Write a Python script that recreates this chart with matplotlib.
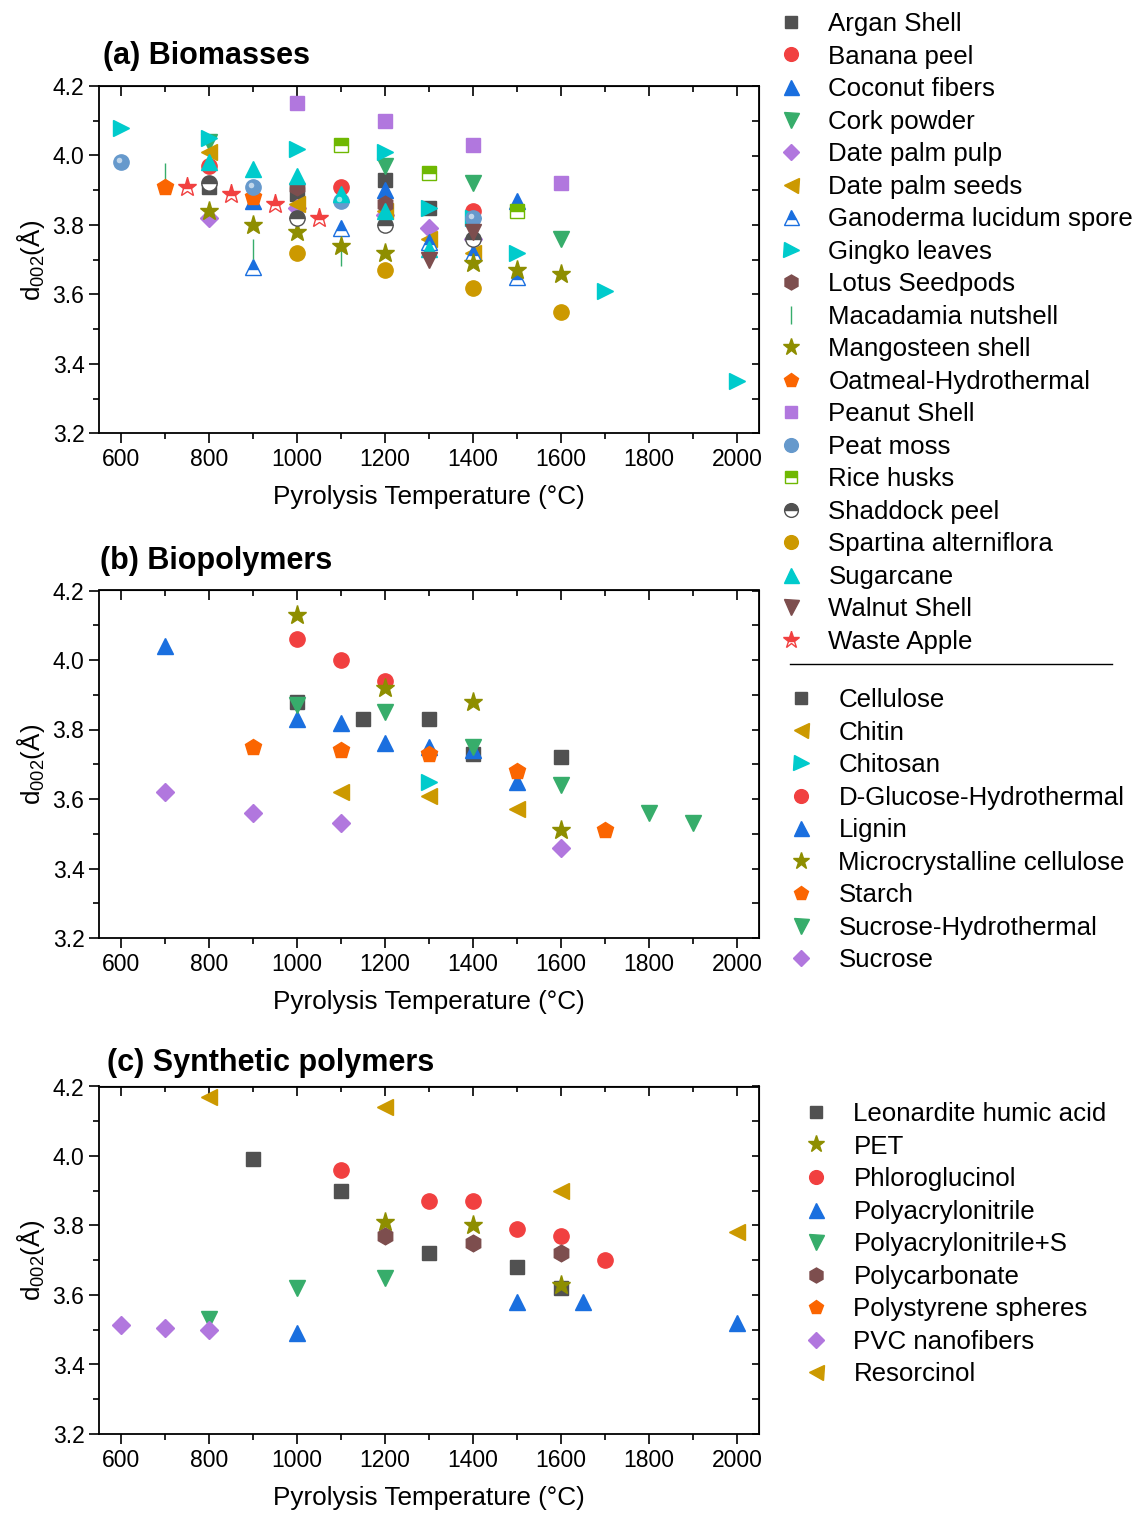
import matplotlib
matplotlib.use('Agg')
import matplotlib.pyplot as plt
import matplotlib.transforms as mtransforms
from matplotlib.lines import Line2D
from matplotlib.ticker import MultipleLocator

plt.rcParams['font.family'] = ['Liberation Sans', 'DejaVu Sans']
plt.rcParams['mathtext.default'] = 'regular'

# Origin-like palette
C_GREY = '#515151'
C_RED = '#F14040'
C_BLUE = '#1A6FDF'
C_GREEN = '#37AD6B'
C_PURPLE = '#B177DE'
C_GOLD = '#CC9900'
C_CYAN = '#00CBCC'
C_BROWN = '#7D4E4E'
C_OLIVE = '#8E8E00'
C_ORANGE = '#FB6501'
C_STEEL = '#6699CC'
C_LIME = '#6FB802'

# ---------------- (a) Biomasses ----------------
argan_x, argan_y = [800, 1000, 1200, 1300], [3.91, 3.89, 3.93, 3.85]
banana_x, banana_y = [800, 1100, 1400], [3.97, 3.91, 3.84]
coconut_x, coconut_y = [900, 1200, 1500], [3.87, 3.90, 3.87]
cork_x, cork_y = [800, 1200, 1400, 1600], [4.04, 3.97, 3.92, 3.76]
dpulp_x, dpulp_y = [800, 1000, 1200, 1300, 1400], [3.82, 3.85, 3.83, 3.79, 3.76]
dseed_x, dseed_y = [800, 1000, 1200, 1300, 1400], [4.01, 3.86, 3.84, 3.76, 3.72]
gano_x, gano_y = [900, 1100, 1300, 1400, 1500], [3.68, 3.79, 3.75, 3.72, 3.65]
gingko_x = [600, 800, 1000, 1200, 1300, 1400, 1500, 1700, 2000]
gingko_y = [4.08, 4.05, 4.02, 4.01, 3.85, 3.82, 3.72, 3.61, 3.35]
lotus_x, lotus_y = [1000, 1200], [3.91, 3.86]
macad_x, macad_y = [700, 900, 1100], [3.95, 3.73, 3.71]
mango_x = [800, 900, 1000, 1100, 1200, 1400, 1500, 1600]
mango_y = [3.84, 3.80, 3.78, 3.74, 3.72, 3.69, 3.67, 3.66]
oat_x, oat_y = [700, 900], [3.91, 3.88]
peanut_x, peanut_y = [1000, 1200, 1400, 1600], [4.15, 4.10, 4.03, 3.92]
peat_x, peat_y = [600, 900, 1100, 1400], [3.98, 3.91, 3.87, 3.82]
rice_x, rice_y = [1100, 1300, 1500], [4.03, 3.95, 3.84]
shad_x, shad_y = [800, 1000, 1200, 1400], [3.92, 3.82, 3.80, 3.76]
spart_x, spart_y = [1000, 1200, 1400, 1600], [3.72, 3.67, 3.62, 3.55]
sugar_x, sugar_y = [800, 900, 1000, 1100, 1200, 1300], [3.98, 3.96, 3.94, 3.89, 3.84, 3.73]
walnut_x, walnut_y = [1300, 1400], [3.70, 3.78]
apple_x, apple_y = [750, 850, 950, 1050], [3.91, 3.89, 3.86, 3.82]

# ---------------- (b) Biopolymers ----------------
cell_x, cell_y = [1000, 1150, 1300, 1400, 1600], [3.88, 3.83, 3.83, 3.73, 3.72]
chitin_x, chitin_y = [1100, 1300, 1500], [3.62, 3.61, 3.57]
chitosan_x, chitosan_y = [1300], [3.65]
gluc_x, gluc_y = [1000, 1100, 1200], [4.06, 4.00, 3.94]
lignin_x = [700, 1000, 1100, 1200, 1300, 1400, 1500]
lignin_y = [4.04, 3.83, 3.82, 3.76, 3.75, 3.74, 3.65]
mcc_x, mcc_y = [1000, 1200, 1400, 1600], [4.13, 3.92, 3.88, 3.51]
starch_x, starch_y = [900, 1100, 1300, 1500, 1700], [3.75, 3.74, 3.73, 3.68, 3.51]
suchyd_x = [1000, 1200, 1400, 1600, 1800, 1900]
suchyd_y = [3.87, 3.85, 3.75, 3.64, 3.56, 3.53]
sucrose_x, sucrose_y = [700, 900, 1100, 1600], [3.62, 3.56, 3.53, 3.46]

# ---------------- (c) Synthetic polymers ----------------
leon_x, leon_y = [900, 1100, 1300, 1500, 1600], [3.99, 3.90, 3.72, 3.68, 3.62]
pet_x, pet_y = [1200, 1400, 1600], [3.81, 3.80, 3.63]
phlo_x = [1100, 1300, 1400, 1500, 1600, 1700]
phlo_y = [3.96, 3.87, 3.87, 3.79, 3.77, 3.70]
pan_x, pan_y = [1000, 1500, 1650, 2000], [3.49, 3.58, 3.58, 3.52]
pans_x, pans_y = [800, 1000, 1200], [3.53, 3.62, 3.65]
pc_x, pc_y = [1200, 1400, 1600], [3.77, 3.75, 3.72]
ps_x, ps_y = [], []
pvc_x, pvc_y = [600, 700, 800], [3.515, 3.505, 3.50]
resor_x, resor_y = [800, 1200, 1600, 2000], [4.17, 4.14, 3.90, 3.78]

W, H = 1139, 1513
fig = plt.figure(figsize=(W / 100, H / 100), dpi=100)


def make_axes(top_px):
    left, right, bottom = 99, 759, top_px + 347.5
    ax = fig.add_axes([left / W, 1 - bottom / H, (right - left) / W, 347.5 / H])
    ax.set_xlim(550, 2050)
    ax.set_ylim(3.2, 4.2)
    ax.set_xticks(range(600, 2001, 200))
    ax.set_yticks([3.2, 3.4, 3.6, 3.8, 4.0, 4.2])
    ax.xaxis.set_minor_locator(MultipleLocator(100))
    ax.yaxis.set_minor_locator(MultipleLocator(0.1))
    ax.tick_params(which='major', direction='out', length=7, width=1.2, labelsize=16.5)
    ax.tick_params(which='minor', direction='out', length=4, width=1.2)
    for s in ax.spines.values():
        s.set_linewidth(1.3)
    # mirrored inward ticks on top / right
    top = ax.secondary_xaxis('top')
    top.set_xticks(range(600, 2001, 200))
    top.xaxis.set_minor_locator(MultipleLocator(100))
    top.tick_params(which='major', direction='in', length=7, width=1.2, labeltop=False)
    top.tick_params(which='minor', direction='in', length=4, width=1.2)
    rgt = ax.secondary_yaxis('right')
    rgt.set_yticks([3.2, 3.4, 3.6, 3.8, 4.0, 4.2])
    rgt.yaxis.set_minor_locator(MultipleLocator(0.1))
    rgt.tick_params(which='major', direction='in', length=5, width=1.2, labelright=False)
    rgt.tick_params(which='minor', direction='in', length=5, width=1.2)
    # axis labels
    fig.text(429 / W, 1 - (top_px + 411) / H, 'Pyrolysis Temperature (°C)',
             ha='center', va='center', fontsize=18.8)
    fig.text(31 / W, 1 - (top_px + 174) / H, r'd$_{002}$(Å)', rotation=90,
             ha='center', va='center', fontsize=18.8)
    return ax


MS = 11


def pts(ax, x, y, marker, color, ms=MS, **kw):
    opts = dict(linestyle='none', marker=marker, markersize=ms, color=color,
                markeredgecolor=color, markeredgewidth=1)
    opts.update(kw)
    return ax.plot(x, y, **opts)[0]


# ---- panel a
ax1 = make_axes(86)
half = dict(fillstyle='top', markerfacecoloralt='white')
h_a = [
    (pts(ax1, argan_x, argan_y, 's', C_GREY, ms=10), 'Argan Shell'),
    (pts(ax1, banana_x, banana_y, 'o', C_RED), 'Banana peel'),
    (pts(ax1, coconut_x, coconut_y, '^', C_BLUE, ms=12), 'Coconut fibers'),
    (pts(ax1, cork_x, cork_y, 'v', C_GREEN, ms=12), 'Cork powder'),
    (pts(ax1, dpulp_x, dpulp_y, 'D', C_PURPLE, ms=9), 'Date palm pulp'),
    (pts(ax1, dseed_x, dseed_y, '<', C_GOLD, ms=12), 'Date palm seeds'),
    (pts(ax1, gano_x, gano_y, '^', C_BLUE, ms=12, **half), 'Ganoderma lucidum spore'),
    (pts(ax1, gingko_x, gingko_y, '>', C_CYAN, ms=12), 'Gingko leaves'),
    (pts(ax1, lotus_x, lotus_y, 'h', C_BROWN, ms=12), 'Lotus Seedpods'),
    (pts(ax1, macad_x, macad_y, '|', C_GREEN, ms=14), 'Macadamia nutshell'),
    (pts(ax1, mango_x, mango_y, '*', C_OLIVE, ms=14), 'Mangosteen shell'),
    (pts(ax1, oat_x, oat_y, 'p', C_ORANGE, ms=12), 'Oatmeal-Hydrothermal'),
    (pts(ax1, peanut_x, peanut_y, 's', C_PURPLE, ms=10), 'Peanut Shell'),
    (pts(ax1, peat_x, peat_y, 'o', C_STEEL), 'Peat moss'),
    (pts(ax1, rice_x, rice_y, 's', C_LIME, ms=10, **half), 'Rice husks'),
    (pts(ax1, shad_x, shad_y, 'o', C_GREY, **half), 'Shaddock peel'),
    (pts(ax1, spart_x, spart_y, 'o', C_GOLD), 'Spartina alterniflora'),
    (pts(ax1, sugar_x, sugar_y, '^', C_CYAN, ms=12), 'Sugarcane'),
    (pts(ax1, walnut_x, walnut_y, 'v', C_BROWN, ms=12), 'Walnut Shell'),
    (pts(ax1, apple_x, apple_y, '*', C_RED, ms=14, **half), 'Waste Apple'),
]
# glossy highlight on the peat moss spheres
hl = mtransforms.offset_copy(ax1.transData, fig=fig, x=-1.5, y=1.5, units='points')
ax1.plot(peat_x, peat_y, linestyle='none', marker='o', markersize=4,
         color='white', alpha=0.6, markeredgewidth=0, transform=hl, zorder=3)
fig.text(103 / W, 1 - 56 / H, '(a) Biomasses', fontsize=22, fontweight='bold',
         ha='left', va='center')

# ---- panel b
ax2 = make_axes(590.5)
h_b = [
    (pts(ax2, cell_x, cell_y, 's', C_GREY, ms=10), 'Cellulose'),
    (pts(ax2, chitin_x, chitin_y, '<', C_GOLD, ms=12), 'Chitin'),
    (pts(ax2, chitosan_x, chitosan_y, '>', C_CYAN, ms=12), 'Chitosan'),
    (pts(ax2, gluc_x, gluc_y, 'o', C_RED), 'D-Glucose-Hydrothermal'),
    (pts(ax2, lignin_x, lignin_y, '^', C_BLUE, ms=12), 'Lignin'),
    (pts(ax2, mcc_x, mcc_y, '*', C_OLIVE, ms=14), 'Microcrystalline cellulose'),
    (pts(ax2, starch_x, starch_y, 'p', C_ORANGE, ms=12), 'Starch'),
    (pts(ax2, suchyd_x, suchyd_y, 'v', C_GREEN, ms=12), 'Sucrose-Hydrothermal'),
    (pts(ax2, sucrose_x, sucrose_y, 'D', C_PURPLE, ms=9), 'Sucrose'),
]
fig.text(100 / W, 1 - 561 / H, '(b) Biopolymers', fontsize=22, fontweight='bold',
         ha='left', va='center')

# ---- panel c
ax3 = make_axes(1086.5)
h_c = [
    (pts(ax3, leon_x, leon_y, 's', C_GREY, ms=10), 'Leonardite humic acid'),
    (pts(ax3, pet_x, pet_y, '*', C_OLIVE, ms=14), 'PET'),
    (pts(ax3, phlo_x, phlo_y, 'o', C_RED), 'Phloroglucinol'),
    (pts(ax3, pan_x, pan_y, '^', C_BLUE, ms=12), 'Polyacrylonitrile'),
    (pts(ax3, pans_x, pans_y, 'v', C_GREEN, ms=12), 'Polyacrylonitrile+S'),
    (pts(ax3, pc_x, pc_y, 'h', C_BROWN, ms=12), 'Polycarbonate'),
    (pts(ax3, ps_x, ps_y, 'p', C_ORANGE, ms=12), 'Polystyrene spheres'),
    (pts(ax3, pvc_x, pvc_y, 'D', C_PURPLE, ms=9), 'PVC nanofibers'),
    (pts(ax3, resor_x, resor_y, '<', C_GOLD, ms=12), 'Resorcinol'),
]
fig.text(107 / W, 1 - 1063 / H, '(c) Synthetic polymers', fontsize=22, fontweight='bold',
         ha='left', va='center')


def add_legend(items, x_px, y_px):
    leg = fig.legend([h for h, _ in items], [t for _, t in items],
                     loc='upper left', bbox_to_anchor=(x_px / W, 1 - y_px / H),
                     frameon=False, fontsize=18.6, markerscale=0.9, numpoints=1,
                     handlelength=1.0, handletextpad=0.95, labelspacing=0.33,
                     borderpad=0, borderaxespad=0)
    return leg


add_legend(h_a, 778, 12)
fig.add_artist(Line2D([790 / W, 1112 / W], [1 - 664 / H, 1 - 664 / H],
                      transform=fig.transFigure, color='black', linewidth=1))
add_legend(h_b, 788, 688)
add_legend(h_c, 803, 1102)

fig.savefig('out.png', dpi=100)
